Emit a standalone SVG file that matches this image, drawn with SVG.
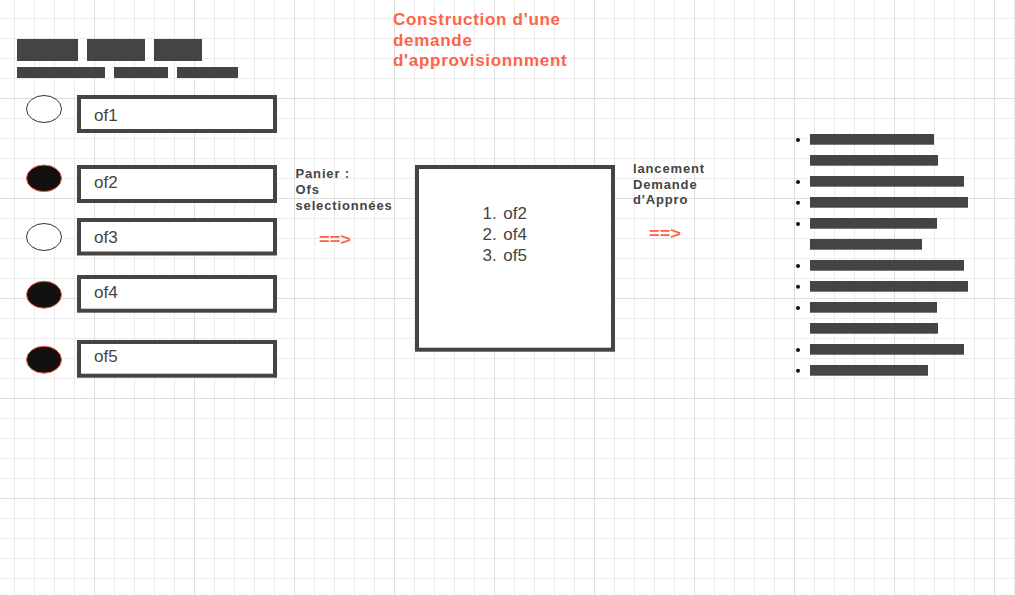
<svg xmlns="http://www.w3.org/2000/svg" width="1015" height="595" viewBox="0 0 1015 595">
<defs>
<pattern id="minor" x="14" y="18" width="20" height="20" patternUnits="userSpaceOnUse"><path d="M0.5 0V20M0 0.5H20" stroke="#ececec" stroke-width="1" fill="none"/></pattern>
<pattern id="major" x="94" y="98" width="100" height="100" patternUnits="userSpaceOnUse"><path d="M0.5 0V100M0 0.5H100" stroke="#dedede" stroke-width="1" fill="none"/></pattern>
<style>
.box{fill:#fff;stroke:#444;stroke-width:4}
.lbl{font-family:"Liberation Sans",Arial,sans-serif;font-size:17px;fill:#444}
.bold{font-family:"Liberation Sans",Arial,sans-serif;font-weight:bold;font-size:13px;fill:#444;letter-spacing:0.85px}
.title{font-family:"Liberation Sans",Arial,sans-serif;font-weight:bold;font-size:17px;fill:#FF6347;letter-spacing:0.7px}
.arrow{font-family:"Liberation Sans",Arial,sans-serif;font-weight:bold;font-size:17px;fill:#FF6347}
.bar{fill:#444}
.on{fill:#111;stroke:#FF6347;stroke-width:1}
.off{fill:#fff;stroke:#333;stroke-width:1}
.dot{fill:#111}
</style>
</defs>
<rect width="1015" height="595" fill="#fff"/>
<rect width="1015" height="595" fill="url(#minor)"/>
<rect width="1015" height="595" fill="url(#major)"/>

<g id="header">
<rect class="bar" x="17" y="39" width="61" height="22"/>
<rect class="bar" x="87" y="39" width="58" height="22"/>
<rect class="bar" x="154" y="39" width="48" height="22"/>
<rect class="bar" x="17" y="67" width="88" height="11"/>
<rect class="bar" x="114" y="67" width="54" height="11"/>
<rect class="bar" x="177" y="67" width="61" height="11"/>
</g>

<g id="title">
<text class="title" x="393" y="25">Construction d'une</text>
<text class="title" x="393" y="45.5">demande</text>
<text class="title" x="393" y="66">d'approvisionnment</text>
</g>

<g id="of1"><ellipse class="off" cx="44" cy="109" rx="17.5" ry="13.5"/><rect class="box" x="79" y="97" width="196" height="34"/><text class="lbl" x="94" y="120.5">of1</text></g>
<g id="of2"><ellipse class="on" cx="44" cy="178.3" rx="17.5" ry="13.3"/><rect class="box" x="79" y="167" width="196" height="34"/><text class="lbl" x="94" y="188.3">of2</text></g>
<g id="of3"><ellipse class="off" cx="44" cy="237" rx="17.5" ry="13.5"/><rect class="box" x="79" y="220" width="196" height="33.5"/><text class="lbl" x="94" y="243.3">of3</text></g>
<g id="of4"><ellipse class="on" cx="44" cy="294.7" rx="17.5" ry="13.5"/><rect class="box" x="79" y="277" width="196" height="33.7"/><text class="lbl" x="94" y="297.7">of4</text></g>
<g id="of5"><ellipse class="on" cx="44" cy="359.7" rx="17.5" ry="13.5"/><rect class="box" x="79" y="342" width="196" height="33.7"/><text class="lbl" x="94" y="362.3">of5</text></g>

<g id="panier">
<text class="bold" x="295.5" y="177.7">Panier :</text>
<text class="bold" x="295.5" y="194">Ofs</text>
<text class="bold" x="295.5" y="209.5">selectionnées</text>
</g>

<g id="connectors">
<text class="arrow" x="319" y="244.5" textLength="32" lengthAdjust="spacingAndGlyphs">==&gt;</text>
<text class="arrow" x="649" y="238.5" textLength="32" lengthAdjust="spacingAndGlyphs">==&gt;</text>
</g>

<g id="demande">
<rect class="box" x="417" y="167" width="196" height="182.7"/>
<text class="lbl" x="482.5" y="219">1.</text><text class="lbl" x="503.3" y="219">of2</text>
<text class="lbl" x="482.5" y="240.3">2.</text><text class="lbl" x="503.3" y="240.3">of4</text>
<text class="lbl" x="482.5" y="261.3">3.</text><text class="lbl" x="503.3" y="261.3">of5</text>
</g>

<g id="lancement">
<text class="bold" x="633" y="173.3">lancement</text>
<text class="bold" x="633" y="189">Demande</text>
<text class="bold" x="633" y="204.3">d'Appro</text>
</g>

<g id="resultat">
<circle class="dot" cx="798" cy="140" r="2"/><rect class="bar" x="810" y="134" width="124" height="10.7"/>
<rect class="bar" x="810" y="155" width="128" height="10.7"/>
<circle class="dot" cx="798" cy="182" r="2"/><rect class="bar" x="810" y="176" width="154" height="10.7"/>
<circle class="dot" cx="798" cy="202.7" r="2"/><rect class="bar" x="810" y="197" width="158" height="10.7"/>
<circle class="dot" cx="798" cy="224" r="2"/><rect class="bar" x="810" y="218" width="127" height="10.7"/>
<rect class="bar" x="810" y="239" width="112" height="10.7"/>
<circle class="dot" cx="798" cy="266" r="2"/><rect class="bar" x="810" y="260" width="154" height="10.7"/>
<circle class="dot" cx="798" cy="286.7" r="2"/><rect class="bar" x="810" y="281" width="158" height="10.7"/>
<circle class="dot" cx="798" cy="308" r="2"/><rect class="bar" x="810" y="302" width="127" height="10.7"/>
<rect class="bar" x="810" y="323" width="128" height="10.7"/>
<circle class="dot" cx="798" cy="350" r="2"/><rect class="bar" x="810" y="344" width="154" height="10.7"/>
<circle class="dot" cx="798" cy="370.7" r="2"/><rect class="bar" x="810" y="365" width="118" height="10.7"/>
</g>
</svg>
